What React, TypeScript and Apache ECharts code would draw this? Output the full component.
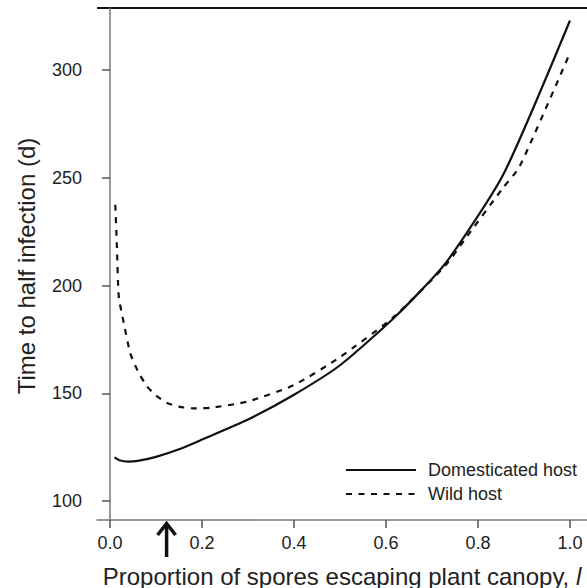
import React, { useEffect, useRef } from "react";
import * as echarts from "echarts";

const domX = [0.01, 0.02, 0.04, 0.06, 0.1, 0.15, 0.2, 0.3, 0.4, 0.5, 0.62, 0.73, 0.855, 1.0];
const domY = [120.2, 118.9, 118.3, 118.6, 120.5, 124, 128.5, 137.8, 149.3, 163, 185.5, 210.5, 251.5, 323];
const wildX = [0.0115, 0.015, 0.019, 0.03, 0.044, 0.06, 0.08, 0.1, 0.124, 0.15, 0.18, 0.22, 0.3, 0.4, 0.5, 0.62, 0.73, 0.77, 0.855, 0.89, 1.0];
const wildY = [237.5, 218, 195, 182.5, 168.6, 160.5, 153.3, 149, 145.5, 143.8, 143, 143.3, 146.2, 153.8, 166.8, 186, 209.5, 221, 245.5, 255, 308];
const xTicks = [0, 0.2, 0.4, 0.6, 0.8, 1.0];
const yTicks = [100, 150, 200, 250, 300];
const arrowX = 0.123;

const FONT = "'Liberation Sans', Arial, sans-serif";

export default function App() {
  const ref = useRef<HTMLDivElement>(null);
  useEffect(() => {
    const chart = echarts.init(ref.current!, undefined, { renderer: "svg" });
    const option: any = {
      animation: false,
      grid: { left: 97, top: 8, right: 0, bottom: 68 },
      xAxis: {
        type: "value",
        min: -0.0283,
        max: 1.037,
        axisLine: { show: true, lineStyle: { color: "#777", width: 1.5 } },
        axisTick: { show: true, length: 8, lineStyle: { color: "#555", width: 1.5 }, customValues: xTicks },
        axisLabel: {
          customValues: xTicks,
          formatter: (v: number) => v.toFixed(1),
          fontSize: 18,
          color: "#222",
          fontFamily: FONT,
          margin: 14,
        },
        splitLine: { show: false },
      },
      yAxis: {
        type: "value",
        min: 91.18,
        max: 328.8,
        axisLine: { show: true, lineStyle: { color: "#777", width: 1.5 } },
        axisTick: { show: true, length: 8, lineStyle: { color: "#555", width: 1.5 }, customValues: yTicks },
        axisLabel: {
          customValues: yTicks,
          fontSize: 18,
          color: "#222",
          fontFamily: FONT,
          margin: 15,
        },
        splitLine: { show: false },
      },
      legend: {
        orient: "vertical",
        left: 340,
        top: 456,
        itemWidth: 70,
        itemHeight: 18,
        itemGap: 6,
        itemStyle: { opacity: 0 },
        textStyle: { fontSize: 18, color: "#222", fontFamily: FONT, padding: [0, 0, 0, 7] },
        data: ["Domesticated host", "Wild host"],
      },
      series: [
        {
          name: "Domesticated host",
          type: "line",
          data: domX.map((x, i) => [x, domY[i]]),
          symbol: "none",
          smooth: 0.2,
          lineStyle: { color: "#111", width: 2.2 },
          itemStyle: { color: "#111" },
        },
        {
          name: "Wild host",
          type: "line",
          data: wildX.map((x, i) => [x, wildY[i]]),
          symbol: "none",
          smooth: 0.2,
          lineStyle: { color: "#111", width: 2.2, type: [6, 6.5] },
          itemStyle: { color: "#111" },
        },
      ],
    };
    chart.setOption(option);
    const ax = chart.convertToPixel({ gridIndex: 0 }, [arrowX, 91.18]) as number[];
    const px = ax[0];
    chart.setOption({
      graphic: [
        { type: "line", shape: { x1: 97, y1: 8, x2: 587, y2: 8 }, style: { stroke: "#111", lineWidth: 2 } },
        { type: "line", shape: { x1: px, y1: 524, x2: px, y2: 557 }, style: { stroke: "#111", lineWidth: 3.5 } },
        {
          type: "polyline",
          shape: { points: [[px - 9, 535], [px, 523.5], [px + 9, 535]] },
          style: { stroke: "#111", lineWidth: 3.5, fill: "none" },
        },
        {
          type: "text",
          x: 342,
          y: 576,
          style: {
            text: "Proportion of spores escaping plant canopy, {i|l}",
            rich: { i: { fontStyle: "italic", fontSize: 24, fontFamily: FONT, fill: "#222" } },
            fontSize: 24,
            fontFamily: FONT,
            fill: "#222",
            align: "center",
            verticalAlign: "middle",
          },
        },
        {
          type: "text",
          x: 26,
          y: 266,
          rotation: Math.PI / 2,
          style: {
            text: "Time to half infection (d)",
            fontSize: 24,
            fontFamily: FONT,
            fill: "#222",
            align: "center",
            verticalAlign: "middle",
          },
        },
      ],
    });
    return () => chart.dispose();
  }, []);
  return <div ref={ref} style={{ width: 587, height: 588, position: "absolute", left: 0, top: 0 }} />;
}
